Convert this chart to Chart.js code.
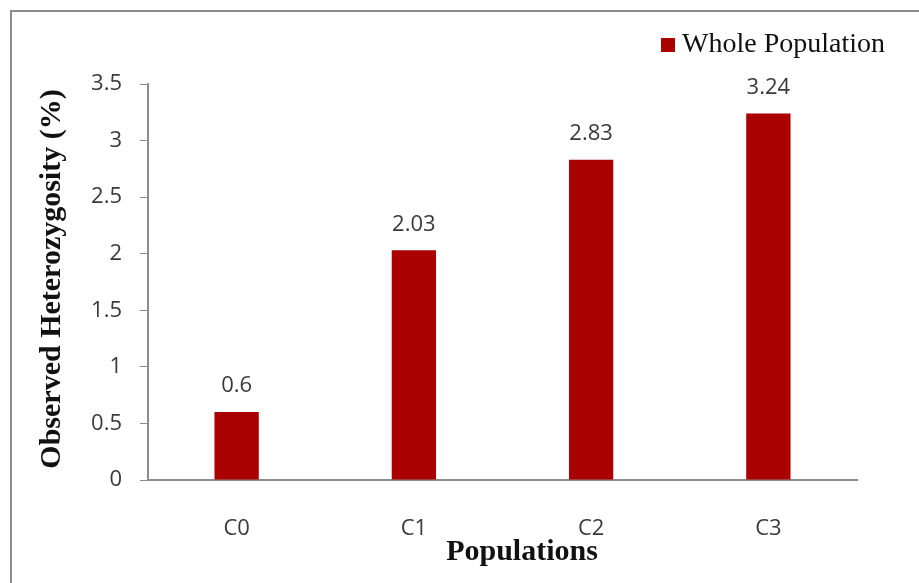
<!DOCTYPE html>
<html>
<head>
<meta charset="utf-8">
<script src="https://cdn.jsdelivr.net/npm/chart.js@4/dist/chart.umd.min.js"></script>
<style>
  html, body { margin: 0; padding: 0; background: #ffffff; }
  #wrap { width: 919px; height: 583px; position: relative; }
</style>
</head>
<body>
<div id="wrap"><canvas id="c" width="919" height="583"></canvas></div>
<script>
// Observed heterozygosity per population
const categories = ['C0', 'C1', 'C2', 'C3'];
const heterozygosity = [0.6, 2.03, 2.83, 3.24];
const yTicks = [0, 0.5, 1, 1.5, 2, 2.5, 3, 3.5];
const seriesName = 'Whole Population';
const xTitle = 'Populations';
const yTitle = 'Observed Heterozygosity (%)';

const BAR = '#aa0000';
const AXIS = '#8c8c8c';
const TEXT = '#3a3a3a';

// Frame, legend, axis titles and value labels
const decorations = {
  id: 'decorations',
  beforeDraw(chart) {
    const ctx = chart.ctx;
    ctx.save();
    ctx.fillStyle = '#ffffff';
    ctx.fillRect(0, 0, chart.width, chart.height);
    ctx.strokeStyle = AXIS;
    ctx.lineWidth = 2;
    ctx.beginPath();
    ctx.moveTo(11, chart.height + 5);
    ctx.lineTo(11, 11);
    ctx.lineTo(chart.width + 5, 11);
    ctx.stroke();
    ctx.restore();
  },
  afterDatasetsDraw(chart) {
    const ctx = chart.ctx;
    const area = chart.chartArea;
    ctx.save();

    // value labels above each bar
    ctx.font = '22px "Open Sans"';
    ctx.fillStyle = TEXT;
    ctx.textAlign = 'center';
    ctx.textBaseline = 'middle';
    const meta = chart.getDatasetMeta(0);
    meta.data.forEach((bar, i) => {
      ctx.fillText(String(heterozygosity[i]), bar.x, bar.y - 26);
    });

    // legend
    ctx.fillStyle = BAR;
    ctx.fillRect(661, 38, 14, 14);
    ctx.fillStyle = '#111111';
    ctx.font = '28px "Liberation Serif"';
    ctx.textAlign = 'left';
    ctx.textBaseline = 'middle';
    ctx.fillText(seriesName, 682, 45);

    // axis titles
    ctx.font = 'bold 30px "Liberation Serif"';
    ctx.fillStyle = '#111111';
    ctx.textAlign = 'center';
    ctx.textBaseline = 'middle';
    ctx.fillText(xTitle, 522, 552);

    ctx.translate(52, (area.top + area.bottom) / 2 - 3);
    ctx.rotate(-Math.PI / 2);
    ctx.fillText(yTitle, 0, 0);
    ctx.restore();
  }
};

new Chart(document.getElementById('c'), {
  type: 'bar',
  data: {
    labels: categories,
    datasets: [{
      label: seriesName,
      data: heterozygosity,
      backgroundColor: BAR,
      borderWidth: 0,
      barPercentage: 0.5,
      categoryPercentage: 0.5
    }]
  },
  options: {
    responsive: false,
    animation: false,
    devicePixelRatio: 1,
    layout: { padding: { left: 0, top: 84, right: 62, bottom: 0 } },
    plugins: {
      legend: { display: false },
      tooltip: { enabled: false },
      title: { display: false }
    },
    scales: {
      x: {
        afterFit(scale) { scale.height = 103; },
        grid: { display: true, drawOnChartArea: false, drawTicks: false, color: AXIS },
        border: { display: true, color: AXIS, width: 2 },
        ticks: {
          font: { family: 'Open Sans', size: 22 },
          color: TEXT,
          padding: 36
        }
      },
      y: {
        min: 0,
        max: 3.5,
        afterFit(scale) { scale.width = 148; },
        afterBuildTicks(scale) { scale.ticks = yTicks.map(v => ({ value: v })); },
        grid: { display: true, drawOnChartArea: false, drawTicks: true, tickLength: 8, color: AXIS },
        border: { display: true, color: AXIS, width: 2 },
        ticks: {
          font: { family: 'Open Sans', size: 22 },
          color: TEXT,
          padding: 18,
          callback: (v) => String(v)
        }
      }
    }
  },
  plugins: [decorations]
});
</script>
</body>
</html>
